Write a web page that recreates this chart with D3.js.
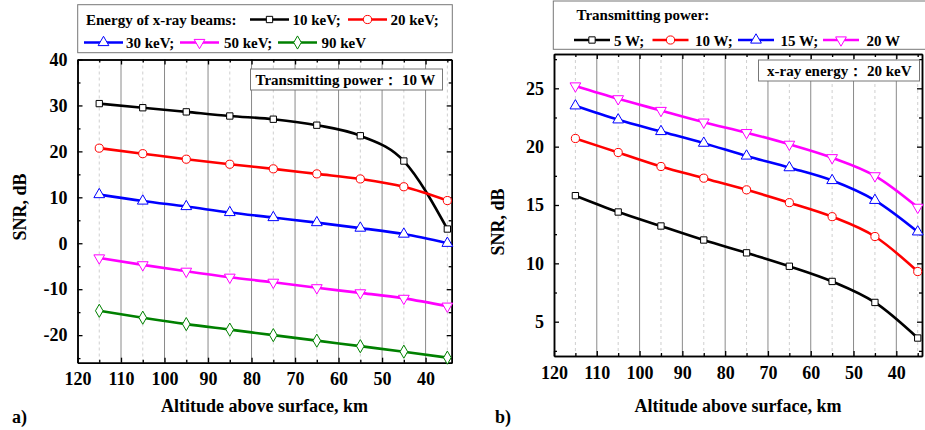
<!DOCTYPE html>
<html><head><meta charset="utf-8">
<script src="https://cdn.jsdelivr.net/npm/d3@7"></script>
<style>
html,body{margin:0;padding:0;background:#fff;}
</style></head>
<body>
<svg id="chart" width="925" height="430"></svg>
<script>
// ---------- data ----------
const altitudes = [115,105,95,85,75,65,55,45,35];
const xMajorTicks = [120,110,100,90,80,70,60,50,40];
const xMinorTicks = [115,105,95,85,75,65,55,45,35];

const energyLabels = ["10 keV;","20 keV;","30 keV;","50 keV;","90 keV"];
const snr10keV = [30.4,29.5,28.6,27.7,27.0,25.7,23.4,17.9,3.1];
const snr20keV = [20.7,19.5,18.3,17.2,16.2,15.1,14.0,12.3,9.3];
const snr30keV = [10.6,9.2,8.0,6.7,5.6,4.5,3.3,2.0,0.0];
const snr50keV = [-3.2,-4.7,-6.1,-7.4,-8.5,-9.7,-10.8,-12.0,-13.7];
const snr90keV = [-14.7,-16.2,-17.6,-18.8,-20.0,-21.2,-22.4,-23.6,-24.9];
const leftYTicks = [-20,-10,0,10,20,30,40];
const leftYMinor = [-25,-15,-5,5,15,25,35];

const powerLabels = ["5 W;","10 W;","15 W;","20 W"];
const snr5W  = [15.8,14.4,13.2,12.0,10.9,9.75,8.45,6.65,3.6];
const snr10W = [20.7,19.5,18.3,17.3,16.3,15.2,14.0,12.3,9.3];
const snr15W = [23.5,22.3,21.3,20.3,19.2,18.2,17.1,15.4,12.7];
const snr20W = [25.2,24.1,23.1,22.1,21.2,20.2,19.05,17.5,14.8];
const rightYTicks = [5,10,15,20,25];
const rightYMinor = [2.5,7.5,12.5,17.5,22.5,27.5];

const colors = ["#000000","#ff0000","#0000ff","#ff00ff","#008000"];
const shapes = ["square","circle","triUp","triDown","diamond"];

const FONT = "'Liberation Serif','Times New Roman',Times,'DejaVu Serif',serif";

// ---------- drawing ----------
const svg = d3.select("#chart");

function txt(sel, size){
  return sel.style("font-family",FONT).style("font-weight","bold").style("font-size",size+"px").attr("fill","#000");
}

function symbolPath(shape){
  const m = {square:[d3.symbolSquare,40], circle:[d3.symbolCircle,52], triUp:[d3.symbolTriangle,50],
             triDown:[d3.symbolTriangle,50], diamond:[d3.symbolDiamond,50]}[shape];
  return d3.symbol().type(m[0]).size(m[1])();
}
function drawMarker(g, x, y, shape, color){
  g.append("path").attr("d", symbolPath(shape))
    .attr("transform", `translate(${x},${y})` + (shape==="triDown" ? " rotate(180)" : ""))
    .attr("fill","#fff").attr("stroke",color).attr("stroke-width",1);
}

function panel(cfg){
  const g = svg.append("g");
  const x = d3.scaleLinear().domain([120,34]).range([cfg.x0,cfg.x1]);
  const y = d3.scaleLinear().domain(cfg.yDomain).range([cfg.y1,cfg.y0]);
  // grid
  g.selectAll(".gmaj").data(xMajorTicks.slice(1)).join("line")
    .attr("x1",d=>x(d)).attr("x2",d=>x(d)).attr("y1",cfg.y0).attr("y2",cfg.y1)
    .attr("stroke","#8a8a8a").attr("stroke-width",1);
  g.selectAll(".gmin").data(xMinorTicks).join("line")
    .attr("x1",d=>x(d)).attr("x2",d=>x(d)).attr("y1",cfg.y0).attr("y2",cfg.y1)
    .attr("stroke","#cfcfcf").attr("stroke-width",1).attr("stroke-dasharray","3,3");
  const fmt = d => String(d);
  const axB = d3.axisBottom(x).tickValues(xMajorTicks).tickSize(-5).tickSizeOuter(0).tickPadding(10).tickFormat(fmt);
  const axT = d3.axisTop(x).tickValues(xMajorTicks).tickSize(-5).tickSizeOuter(0).tickFormat("");
  const axL = d3.axisLeft(y).tickValues(cfg.yTicks).tickSize(-5).tickSizeOuter(0).tickPadding(10).tickFormat(fmt);
  const axR = d3.axisRight(y).tickValues(cfg.yTicks).tickSize(-5).tickSizeOuter(0).tickFormat("");
  const axBm = d3.axisBottom(x).tickValues(xMinorTicks).tickSize(-3).tickSizeOuter(0).tickFormat("");
  const axTm = d3.axisTop(x).tickValues(xMinorTicks).tickSize(-3).tickSizeOuter(0).tickFormat("");
  const axLm = d3.axisLeft(y).tickValues(cfg.yMinor).tickSize(-3).tickSizeOuter(0).tickFormat("");
  const axRm = d3.axisRight(y).tickValues(cfg.yMinor).tickSize(-3).tickSizeOuter(0).tickFormat("");
  const place = (ax, tr) => {
    const a = g.append("g").attr("transform",tr).call(ax);
    a.attr("font-family",null).attr("font-size",null);
    a.select(".domain").attr("stroke","#000").attr("stroke-width",1.5);
    a.selectAll(".tick line").attr("stroke","#000").attr("stroke-width",1.3);
    txt(a.selectAll("text"),18);
    return a;
  };
  place(axBm,`translate(0,${cfg.y1})`); place(axTm,`translate(0,${cfg.y0})`);
  place(axLm,`translate(${cfg.x0},0)`); place(axRm,`translate(${cfg.x1},0)`);
  place(axB,`translate(0,${cfg.y1})`); place(axT,`translate(0,${cfg.y0})`);
  place(axL,`translate(${cfg.x0},0)`); place(axR,`translate(${cfg.x1},0)`);
  // series
  const line = d3.line().x((d,i)=>x(altitudes[i])).y(d=>y(d)).curve(d3.curveMonotoneX);
  cfg.series.forEach((s,k)=>{
    g.append("path").datum(s).attr("d",line).attr("fill","none")
      .attr("stroke",colors[k]).attr("stroke-width",2.6);
  });
  cfg.series.forEach((s,k)=>{
    s.forEach((v,i)=>drawMarker(g, x(altitudes[i]), y(v), shapes[k], colors[k]));
  });
  // annotation box
  const ab = cfg.annot;
  g.append("rect").attr("x",ab.x).attr("y",ab.y).attr("width",ab.w).attr("height",ab.h)
    .attr("fill","#fff").attr("stroke","#777").attr("stroke-width",1);
  txt(g.append("text").attr("x",ab.tx).attr("y",ab.ty).text(ab.text),15);
  // axis titles
  txt(g.append("text").attr("x",(cfg.x0+cfg.x1)/2).attr("y",411.5).attr("text-anchor","middle")
    .text("Altitude above surface, km"),18);
  txt(g.append("text").attr("transform",`translate(${cfg.ytx},${cfg.yty}) rotate(-90)`).attr("text-anchor","middle")
    .text("SNR, dB"),18);
  txt(g.append("text").attr("x",cfg.labX).attr("y",423).text(cfg.lab),18);
  return g;
}

panel({x0:77.5,x1:451.7,y0:59.5,y1:362.7,yDomain:[-26,40],yTicks:leftYTicks,yMinor:leftYMinor,
  series:[snr10keV,snr20keV,snr30keV,snr50keV,snr90keV],
  annot:{x:250.5,y:69,w:192,h:21,tx:255.5,ty:84.5,text:"Transmitting power：  10 W"},
  ytx:26, yty:207, labX:12, lab:"a)"});

panel({x0:554,x1:922,y0:54,y1:356,yDomain:[2.06,27.94],yTicks:rightYTicks,yMinor:rightYMinor,
  series:[snr5W,snr10W,snr15W,snr20W],
  annot:{x:758.5,y:60,w:161,h:21,tx:767,ty:76,text:"x-ray energy：  20 keV"},
  ytx:504, yty:222, labX:495, lab:"b)"});

// ---------- legends ----------
function legendItem(x, y, k, len){
  svg.append("line").attr("x1",x).attr("x2",x+len).attr("y1",y).attr("y2",y)
    .attr("stroke",colors[k]).attr("stroke-width",2.6);
  drawMarker(svg, x+len/2, y, shapes[k], colors[k]);
}
svg.append("rect").attr("x",77.7).attr("y",4.7).attr("width",374.6).attr("height",48)
  .attr("fill","#fff").attr("stroke","#777").attr("stroke-width",1);
txt(svg.append("text").attr("x",86).attr("y",25).text("Energy of x-ray beams:"),15);
const leftLegPos = [[250,19.5,292.5],[348,19.5,390.5],[84,42.5,126],[180,42.5,224],[278,42.5,321.5]];
energyLabels.forEach((lab,k)=>{
  const p = leftLegPos[k];
  legendItem(p[0], p[1], k, 39);
  txt(svg.append("text").attr("x",p[2]).attr("y",p[1]+5.5).text(lab),15);
});
svg.append("rect").attr("x",553.3).attr("y",1).attr("width",380).attr("height",48.3)
  .attr("fill","#fff").attr("stroke","#777").attr("stroke-width",1);
txt(svg.append("text").attr("x",576.5).attr("y",20).text("Transmitting power:"),15);
const rightLegPos = [[574,40,614],[652.5,40,695],[738,40,780.5],[823,40,866.5]];
powerLabels.forEach((lab,k)=>{
  const p = rightLegPos[k];
  legendItem(p[0], p[1], k, 36);
  txt(svg.append("text").attr("x",p[2]).attr("y",p[1]+5.5).text(lab),15);
});
</script>
</body></html>
